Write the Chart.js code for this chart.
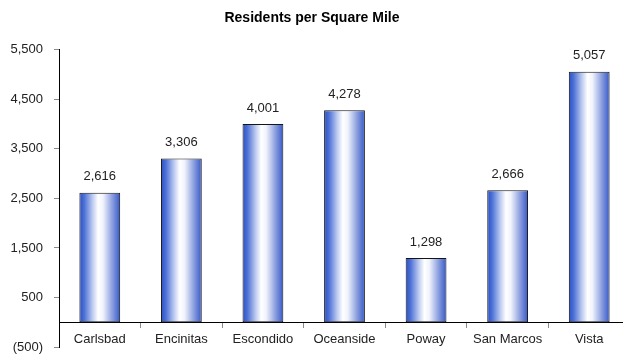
<!DOCTYPE html>
<html>
<head>
<meta charset="utf-8">
<script src="https://cdn.jsdelivr.net/npm/chart.js@4/dist/chart.umd.min.js"></script>
<style>
  html, body { margin: 0; padding: 0; overflow: hidden; background: #ffffff; }
  canvas { display: block; }
</style>
</head>
<body>
<canvas id="chart" width="631" height="354"></canvas>
<script>
// Population density by city
const cities = ['Carlsbad', 'Encinitas', 'Escondido', 'Oceanside', 'Poway', 'San Marcos', 'Vista'];
const residentsPerSqMile = [2616, 3306, 4001, 4278, 1298, 2666, 5057];
const yTickValues = [-500, 500, 1500, 2500, 3500, 4500, 5500];

const FONT = '"Liberation Sans", Arial, Helvetica, sans-serif';

// Accounting-style number: thousands separators, negatives in parentheses
function formatNumber(v) {
  const s = Math.abs(v).toLocaleString('en-US');
  return v < 0 ? '(' + s + ')' : s;
}

// Cylinder-like shading: blue edges fading to a white core
function barFill(ctx) {
  const chart = ctx.chart;
  const xs = chart.scales && chart.scales.x;
  if (!xs || !chart.chartArea) return '#4a6fd6';
  const half = (xs.width / cities.length) * 0.25;
  const cx = xs.getPixelForValue(ctx.dataIndex);
  const g = chart.ctx.createLinearGradient(cx - half, 0, cx + half, 0);
  g.addColorStop(0.00, '#2a50c4');
  g.addColorStop(0.12, '#4d71d6');
  g.addColorStop(0.32, '#bccaf0');
  g.addColorStop(0.46, '#ffffff');
  g.addColorStop(0.58, '#f0f3fc');
  g.addColorStop(0.82, '#8499dd');
  g.addColorStop(1.00, '#3558c6');
  return g;
}

// Value printed above each bar
const valueLabels = {
  id: 'valueLabels',
  afterDatasetsDraw(chart) {
    const c = chart.ctx;
    const meta = chart.getDatasetMeta(0);
    c.save();
    c.font = '13px ' + FONT;
    c.fillStyle = '#222222';
    c.textAlign = 'center';
    c.textBaseline = 'middle';
    meta.data.forEach((bar, i) => {
      c.fillText(formatNumber(residentsPerSqMile[i]), bar.x, bar.y - 16);
    });
    c.restore();
  }
};

new Chart(document.getElementById('chart'), {
  type: 'bar',
  data: {
    labels: cities,
    datasets: [{
      data: residentsPerSqMile,
      backgroundColor: barFill,
      borderColor: '#151515',
      borderWidth: 1,
      borderSkipped: false,
      barPercentage: 0.5,
      categoryPercentage: 1.0
    }]
  },
  options: {
    responsive: false,
    animation: false,
    devicePixelRatio: 1,
    layout: { padding: { left: -6, right: 1, top: 0, bottom: 7 } },
    plugins: {
      legend: { display: false },
      tooltip: { enabled: false },
      title: {
        display: true,
        text: 'Residents per Square Mile',
        color: '#000000',
        font: { family: FONT, size: 14, weight: 'bold' },
        padding: { top: 10, bottom: 23 }
      }
    },
    scales: {
      x: {
        type: 'category',
        position: { y: 0 },
        offset: true,
        grid: { offset: true, drawOnChartArea: false, tickLength: 5, color: '#8a8a8a' },
        border: { color: '#000000', width: 1 },
        ticks: { color: '#222222', font: { family: FONT, size: 13 }, padding: 4, maxRotation: 0, autoSkip: false },
        afterFit(scale) { scale.height = 0; scale.paddingTop = 0; scale.paddingBottom = 0; }
      },
      y: {
        min: -500,
        max: 5500,
        grid: { drawOnChartArea: false, tickLength: 5, color: '#8a8a8a' },
        border: { color: '#000000', width: 1 },
        ticks: {
          color: '#222222',
          font: { family: FONT, size: 13 },
          padding: 11,
          callback: (v) => formatNumber(v)
        },
        afterBuildTicks(scale) { scale.ticks = yTickValues.map(v => ({ value: v })); },
        afterFit(scale) { scale.width = 65; scale.paddingTop = 0; scale.paddingBottom = 0; }
      }
    }
  },
  plugins: [valueLabels]
});
</script>
</body>
</html>
